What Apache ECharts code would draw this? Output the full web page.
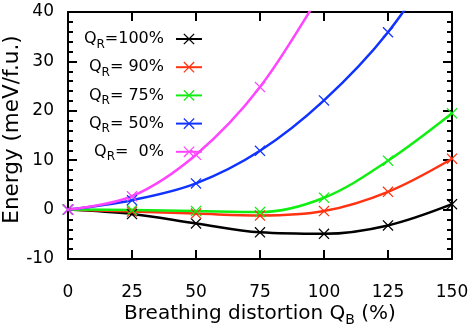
<!DOCTYPE html>
<html><head><meta charset="utf-8">
<script src="https://cdn.jsdelivr.net/npm/echarts@6/dist/echarts.min.js"></script>
<style>html,body{margin:0;padding:0;background:#fff}#c{width:474px;height:335px}</style>
</head><body><div id="c"></div>
<script>
const xValues = [0, 25, 50, 75, 100, 125, 150];
const qr100 = [0, -0.9, -2.8, -4.6, -4.9, -3.2, 1.1];
const qr90 = [0, -0.4, -0.8, -1.2, -0.3, 3.6, 10.3];
const qr75 = [0, -0.1, -0.3, -0.5, 2.4, 9.9, 19.5];
const qr50 = [0, 1.9, 5.3, 11.9, 22.1, 35.9, 55];
const qr0 = [0, 2.7, 11.1, 24.8, 45];
const seriesNames = ['=100%', '= 90%', '= 75%', '= 50%', '=  0%'];
const seriesValues = [qr100, qr90, qr75, qr50, qr0];
const colors = ['#000000', '#ff3311', '#11ee11', '#1133ff', '#ff44ff'];

const FONT = '"DejaVu Sans", sans-serif';
const xSymbol = 'path://M0,0.8L0.8,0L5,4.2L9.2,0L10,0.8L5.8,5L10,9.2L9.2,10L5,5.8L0.8,10L0,9.2L4.2,5Z';

const series = seriesNames.map((name, i) => ({
  name: name,
  type: 'line',
  smooth: 0.35,
  clip: true,
  symbol: xSymbol,
  symbolSize: 11,
  showAllSymbol: true,
  color: colors[i],
  lineStyle: { width: 2.5, color: colors[i] },
  itemStyle: { color: colors[i] },
  emphasis: { disabled: true },
  data: seriesValues[i].map((v, j) => [xValues[j], v])
}));

const axisLineStyle = { show: true, onZero: false, lineStyle: { color: '#000', width: 2 } };
const tickStyle = { show: true, inside: true, length: 9, lineStyle: { color: '#000', width: 2 } };
const minorStyle = { show: true, splitNumber: 5, length: 5, lineStyle: { color: '#000', width: 2 } };
const labelStyle = { color: '#000', fontSize: 17, fontFamily: FONT };

const chart = echarts.init(document.getElementById('c'));
chart.setOption({
  animation: false,
  backgroundColor: '#fff',
  grid: { left: 68, right: 22, top: 12, bottom: 76, containLabel: false, outerBoundsMode: 'none' },
  legend: {
    orient: 'vertical',
    align: 'right',
    right: 271,
    top: 31,
    padding: 0,
    itemWidth: 26,
    itemHeight: 14,
    itemGap: 8.7,
    selectedMode: false,
    formatter: function (n) { return '{q|Q}{s|R}{e|' + n + '}'; },
    textStyle: {
      color: '#000',
      fontSize: 16,
      fontFamily: FONT,
      rich: {
        q: { fontSize: 16, fontFamily: FONT, color: '#000' },
        s: { fontSize: 12, fontFamily: FONT, color: '#000', padding: [11, 0, 0, 0] },
        e: { fontSize: 16, fontFamily: FONT, color: '#000', padding: [0, 7, 0, 0] }
      }
    },
    data: seriesNames
  },
  xAxis: [{
    type: 'value', min: 0, max: 150, interval: 25, position: 'bottom',
    axisLine: axisLineStyle,
    axisTick: tickStyle,
    axisLabel: Object.assign({ margin: 25 }, labelStyle),
    splitLine: { show: false },
    name: '{a|Breathing distortion Q}{s|B}{a| (%)}',
    nameLocation: 'middle',
    nameGap: 41,
    nameMoveOverlap: false,
    nameTextStyle: {
      rich: {
        a: { fontSize: 20, fontFamily: FONT, color: '#000' },
        s: { fontSize: 14, fontFamily: FONT, color: '#000', padding: [13, 0, 0, 0] }
      }
    }
  }, {
    type: 'value', min: 0, max: 150, interval: 25, position: 'top',
    axisLine: axisLineStyle,
    axisTick: tickStyle,
    axisLabel: { show: false },
    splitLine: { show: false }
  }],
  yAxis: [{
    type: 'value', min: -10, max: 40, interval: 10, position: 'left',
    axisLine: axisLineStyle,
    axisTick: tickStyle,
    minorTick: minorStyle,
    axisLabel: Object.assign({ margin: 14 }, labelStyle),
    splitLine: { show: false },
    name: 'Energy (meV/f.u.)',
    nameLocation: 'middle',
    nameGap: 45,
    nameMoveOverlap: false,
    nameTextStyle: { fontSize: 21.5, fontFamily: FONT, color: '#000', padding: [0, 0, 0, 12] }
  }, {
    type: 'value', min: -10, max: 40, interval: 10, position: 'right',
    axisLine: axisLineStyle,
    axisTick: tickStyle,
    minorTick: minorStyle,
    axisLabel: { show: false },
    splitLine: { show: false }
  }],
  series: series
});
</script></body></html>
